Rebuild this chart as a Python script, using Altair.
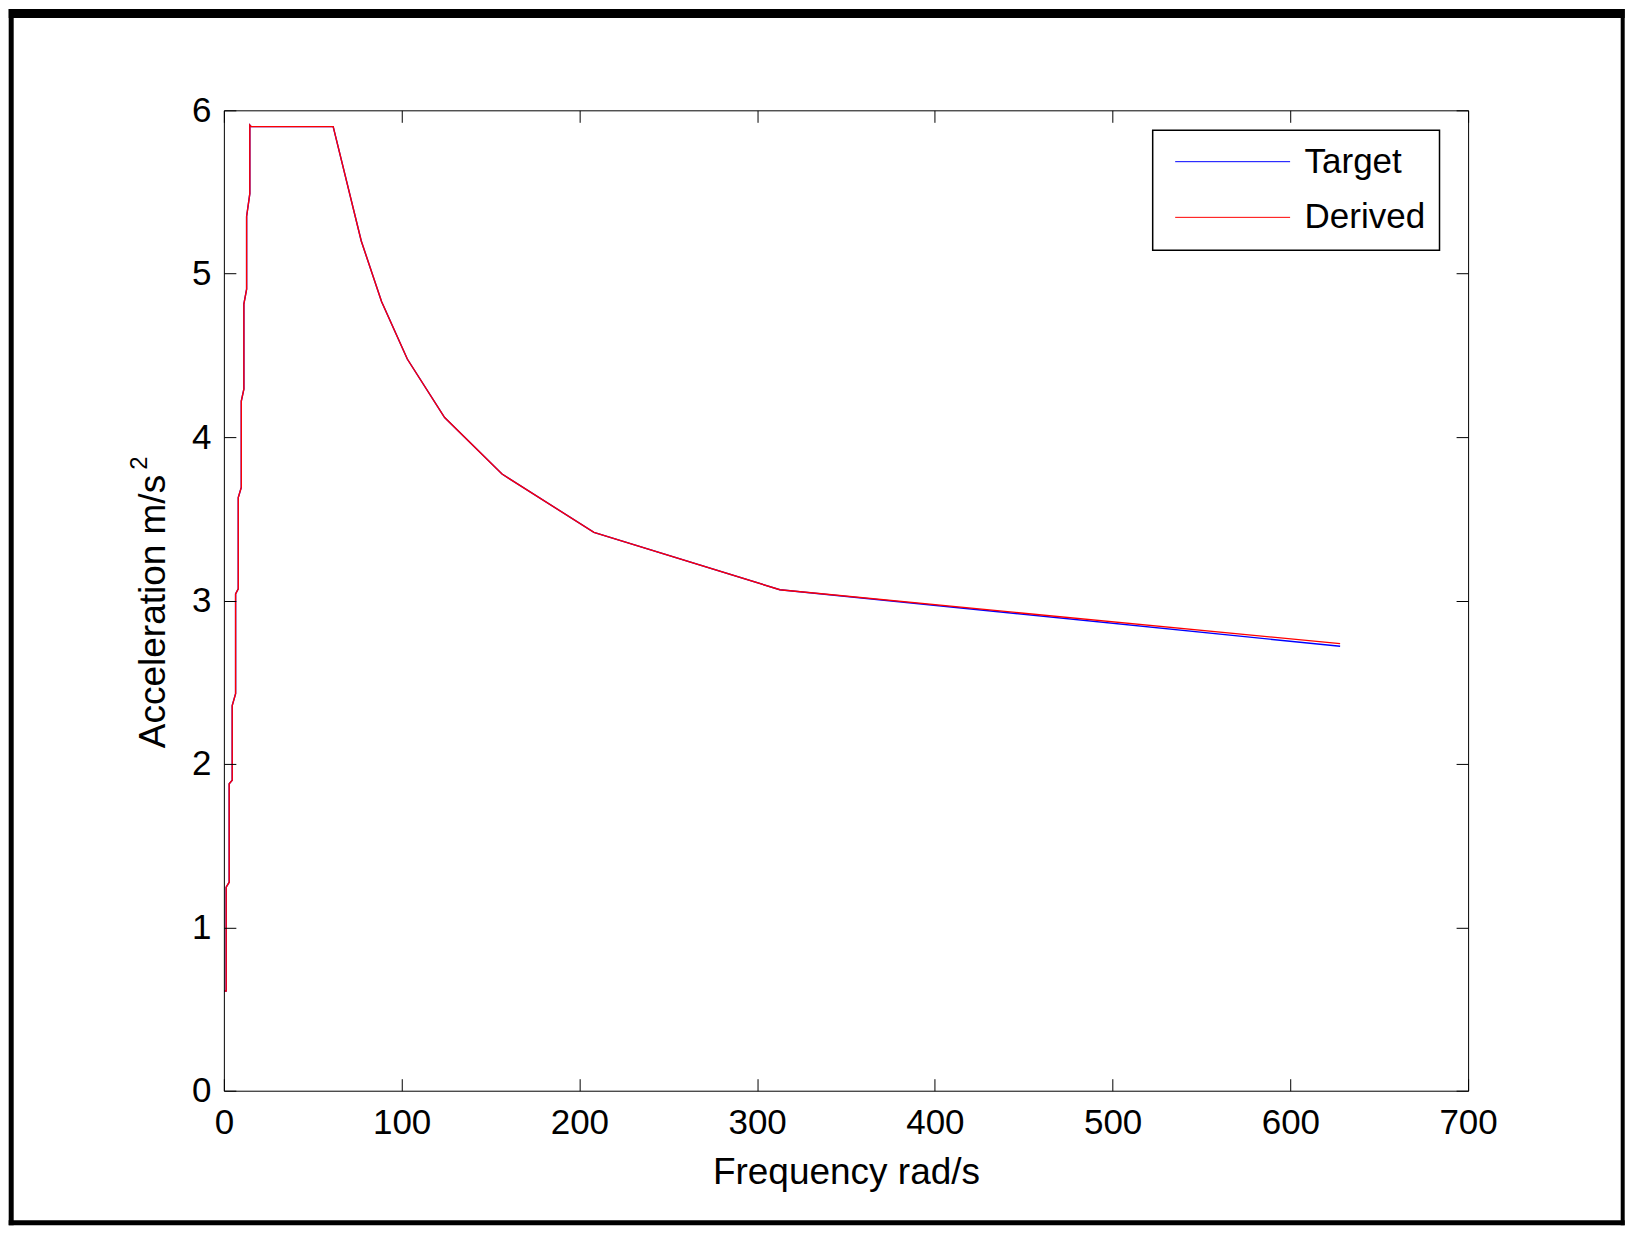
import altair as alt
import pandas as pd

# ---- data ----
freq = [0.2, 1.3, 1.3, 3.0, 3.0, 4.7, 4.7, 6.6, 6.6, 8.1, 8.1, 9.8, 9.8, 11.25, 11.25,
        12.8, 12.8, 14.6, 14.6, 15.4, 61.5, 77.3, 88.7, 103.2, 124.2, 156.5, 208.2, 312.8, 628.0]
target = [0.61, 0.61, 1.246, 1.276, 1.878, 1.90, 2.357, 2.43, 3.04, 3.071, 3.63, 3.692, 4.22,
          4.294, 4.814, 4.906, 5.35, 5.49, 5.91, 5.90, 5.90, 5.20, 4.83, 4.478, 4.12, 3.774,
          3.417, 3.066, 2.720]
derived = [0.61, 0.61, 1.246, 1.276, 1.878, 1.90, 2.357, 2.43, 3.04, 3.071, 3.63, 3.692, 4.22,
           4.294, 4.814, 4.906, 5.35, 5.49, 5.91, 5.90, 5.90, 5.20, 4.83, 4.478, 4.12, 3.774,
           3.417, 3.066, 2.736]
series_names = ["Target", "Derived"]
series_colors = ["#0000ff", "#ff0000"]
x_ticks = [0, 100, 200, 300, 400, 500, 600, 700]
y_ticks = [0, 1, 2, 3, 4, 5, 6]
x_title = "Frequency rad/s"
y_title = "Acceleration m/s"
y_title_sup = "2"

rows = []
for name, ys in zip(series_names, [target, derived]):
    for i, (f, a) in enumerate(zip(freq, ys)):
        rows.append({"series": name, "i": i, "freq": f, "acc": a})
df = pd.DataFrame(rows)

# ---- layout (pixels) ----
W, H = 1245, 981
PX0, PY0 = 223.3, 109.4          # plot origin on the page
FONT = "Liberation Sans"


def px(x):
    return x - PX0


def py(y):
    return y - PY0


xscale = alt.Scale(domain=[0, 700], nice=False, zero=False)
yscale = alt.Scale(domain=[0, 6], nice=False, zero=False)
color = alt.Color(
    "series:N",
    scale=alt.Scale(domain=series_names, range=series_colors),
    sort=series_names,
    legend=alt.Legend(
        title=None, orient="none", legendX=929.4, legendY=19.9,
        direction="vertical", padding=14, strokeColor="black",
        fillColor="white", symbolType="stroke", symbolSize=115 * 115,
        symbolStrokeWidth=1, symbolOffset=8, clipHeight=35,
        labelFont=FONT, labelFontSize=35, labelColor="black", labelOffset=14,
        rowPadding=19.7, labelLimit=400,
    ),
)

common_axis = dict(labelFont=FONT, titleFont=FONT, labelColor="black", titleColor="black",
                   domainColor="black", tickColor="black", grid=False, zindex=1,
                   labelFlush=False, labelOverlap=False)

main_x = alt.X("freq:Q", scale=xscale, axis=alt.Axis(
    orient="bottom", values=x_ticks, format="d", ticks=False, tickSize=0, domain=True,
    labelFontSize=35, labelPadding=15, title=x_title, titleFontSize=37,
    titleFontWeight="normal", titleX=W / 2, titleY=93, titleAlign="center",
    titleBaseline="alphabetic", **common_axis))
main_y = alt.Y("acc:Q", scale=yscale, axis=alt.Axis(
    orient="left", values=y_ticks, format="d", ticks=False, tickSize=0, domain=True,
    labelFontSize=35, labelPadding=13, title=y_title, titleFontSize=37,
    titleFontWeight="normal", titleAngle=270, titleX=-59.8, titleY=501,
    titleAlign="center", titleBaseline="alphabetic", **common_axis))

lines_t = alt.Chart(df).transform_filter(alt.datum.series == "Target").mark_line(
    strokeWidth=1.4).encode(x=main_x, y=main_y, color=color, order="i:Q")
lines_d = alt.Chart(df).transform_filter(alt.datum.series == "Derived").mark_line(
    strokeWidth=1.4).encode(
    x=alt.X("freq:Q", scale=xscale, axis=None),
    y=alt.Y("acc:Q", scale=yscale, axis=None),
    color=color, order="i:Q")


def tick_layer(xorient, yorient, domain):
    return alt.Chart(df).mark_point(opacity=0).encode(
        x=alt.X("freq:Q", scale=xscale, axis=alt.Axis(
            orient=xorient, offset=-H, values=x_ticks, labels=False, tickSize=12,
            domain=domain, title=None, **common_axis)),
        y=alt.Y("acc:Q", scale=yscale, axis=alt.Axis(
            orient=yorient, offset=-W, values=y_ticks, labels=False, tickSize=12,
            domain=domain, title=None, **common_axis)),
    )


ticks_a = tick_layer("top", "right", False)    # inward ticks on bottom / left edges
ticks_b = tick_layer("bottom", "left", True)   # inward ticks + box on top / right edges

one = alt.Data(values=[{"k": 1}])

# superscript "2" of the y title
sup = alt.Chart(one).mark_text(
    text=y_title_sup, font=FONT, fontSize=24, angle=270, align="left",
    baseline="alphabetic", color="black",
).encode(x=alt.value(px(146)), y=alt.value(py(469)))


def strip(x1, x2, y1, y2):
    return alt.Chart(one).mark_rect(color="black").encode(
        x=alt.value(px(x1)), x2=alt.value(px(x2)), y=alt.value(py(y1)), y2=alt.value(py(y2)))


# outer black frame, kept inside the page so nothing overflows the window
frame = [
    strip(8, 13, 8, 1225),
    strip(8, 1625, 8, 17),
    strip(1621, 1625, 8, 1225),
    strip(8, 1625, 1220, 1225),
]

chart = alt.layer(*frame, lines_t, lines_d, ticks_a, ticks_b, sup).resolve_axis(
    x="independent", y="independent"
).properties(width=W, height=H, padding=0, background="white").configure_view(
    stroke=None
).configure_legend(strokeWidth=1.5)

chart.save("out.html", embed_options={"renderer": "svg", "actions": False})
